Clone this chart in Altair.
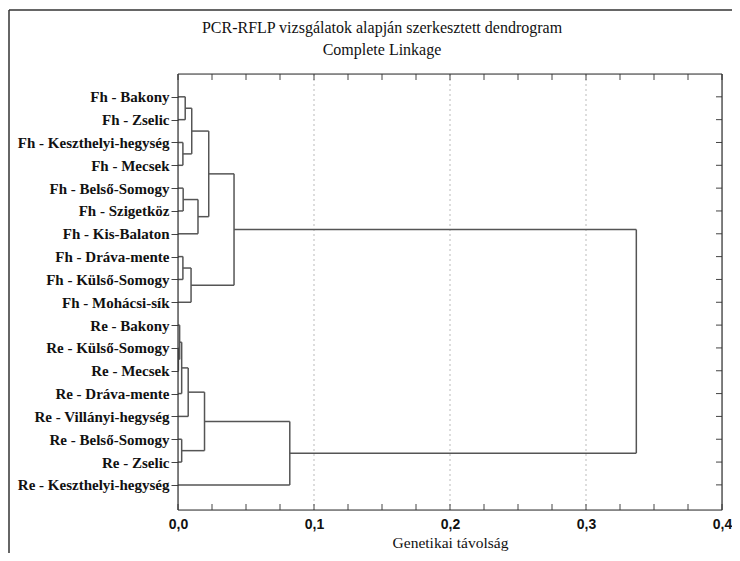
import altair as alt
import pandas as pd

# ---- data ----
leaves = [
    "Fh - Bakony", "Fh - Zselic", "Fh - Keszthelyi-hegység", "Fh - Mecsek",
    "Fh - Belső-Somogy", "Fh - Szigetköz", "Fh - Kis-Balaton", "Fh - Dráva-mente",
    "Fh - Külső-Somogy", "Fh - Mohácsi-sík", "Re - Bakony", "Re - Külső-Somogy",
    "Re - Mecsek", "Re - Dráva-mente", "Re - Villányi-hegység", "Re - Belső-Somogy",
    "Re - Zselic", "Re - Keszthelyi-hegység",
]
# merges: cluster a + cluster b at linkage distance h (new cluster id = 18 + k)
merge_a = [0, 2, 18, 4, 21, 20, 7, 24, 23, 11, 10, 28, 29, 15, 30, 32, 26]
merge_b = [1, 3, 19, 5, 6, 22, 8, 9, 25, 12, 27, 13, 14, 16, 31, 17, 33]
merge_h = [0.0053, 0.0036, 0.0101, 0.0038, 0.0147, 0.0226, 0.0036, 0.0096, 0.0412,
           0.0003, 0.0012, 0.0027, 0.0075, 0.0027, 0.0195, 0.0822, 0.337]
x_tick_values = [0.0, 0.1, 0.2, 0.3, 0.4]
minor_ticks = [0.0, 0.025, 0.05, 0.075, 0.1, 0.125, 0.15, 0.175, 0.2, 0.225,
               0.25, 0.275, 0.3, 0.325, 0.35, 0.375, 0.4]
grid_values = [0.1, 0.2, 0.3]
title_text = "PCR-RFLP vizsgálatok alapján szerkesztett dendrogram"
subtitle_text = "Complete Linkage"

# ---- build dendrogram segments ----
pos = {i: float(i) for i in range(len(leaves))}
hgt = {i: 0.0 for i in range(len(leaves))}
segs = []
for k, (a, b, h) in enumerate(zip(merge_a, merge_b, merge_h)):
    nid = len(leaves) + k
    segs.append(dict(x=h, x2=h, y=pos[a], y2=pos[b]))
    segs.append(dict(x=hgt[a], x2=h, y=pos[a], y2=pos[a]))
    segs.append(dict(x=hgt[b], x2=h, y=pos[b], y2=pos[b]))
    pos[nid] = (pos[a] + pos[b]) / 2
    hgt[nid] = h
seg_df = pd.DataFrame(segs)
leaf_df = pd.DataFrame({"y": list(range(len(leaves)))})
minor_df = pd.DataFrame({"x": minor_ticks})
grid_df = pd.DataFrame({"x": grid_values})
one = pd.DataFrame({"d": [0]})

W, H = 544, 436
PL, PT, PR, PB = 170, 66, 10, 43

xscale = alt.Scale(domain=[0, 0.4], nice=False, zero=False)
yscale = alt.Scale(domain=[-1, 18.1], reverse=True, nice=False, zero=False)

label_arr = "[" + ",".join('"' + s + '"' for s in leaves) + "]"

xaxis = alt.Axis(
    values=x_tick_values,
    labelExpr="replace(format(datum.value, '.1f'), '.', ',')",
    labelFlush=False,
    title="Genetikai távolság",
    titleFont="Liberation Serif", titleFontSize=15.5, titleFontWeight="normal",
    titleColor="#111", titlePadding=4,
    labelFont="Liberation Sans", labelFontSize=14, labelFontWeight="bold",
    labelColor="#111", labelPadding=7,
    ticks=False, domain=False, grid=False,
)
yaxis = alt.Axis(
    values=list(range(len(leaves))),
    labelExpr=label_arr + "[datum.value]",
    title=None,
    labelFont="Liberation Serif", labelFontSize=15, labelFontWeight="bold",
    labelColor="#111", labelPadding=2,
    ticks=True, tickSize=7, tickColor="#444", domain=False, grid=False,
)

line_color = "#555555"

grid = alt.Chart(grid_df).mark_rule(color="#bbbbbb", strokeDash=[2, 3], strokeWidth=1).encode(
    x=alt.X("x:Q", scale=xscale, axis=xaxis),
    y=alt.value(0), y2=alt.value(H),
)

dendro = alt.Chart(seg_df).mark_rule(color=line_color, strokeWidth=1.5).encode(
    x=alt.X("x:Q", scale=xscale, axis=xaxis),
    x2="x2:Q",
    y=alt.Y("y:Q", scale=yscale, axis=yaxis),
    y2="y2:Q",
)

top_ticks = alt.Chart(minor_df).mark_rule(color="#444", strokeWidth=1).encode(
    x=alt.X("x:Q", scale=xscale, axis=xaxis),
    y=alt.value(0), y2=alt.value(6),
)
bottom_ticks = alt.Chart(minor_df).mark_rule(color="#444", strokeWidth=1).encode(
    x=alt.X("x:Q", scale=xscale, axis=xaxis),
    y=alt.value(H - 6), y2=alt.value(H),
)
right_ticks = alt.Chart(leaf_df).mark_rule(color="#444", strokeWidth=1).encode(
    y=alt.Y("y:Q", scale=yscale, axis=yaxis),
    x=alt.value(W - 6), x2=alt.value(W),
)

# plot box
box_top = alt.Chart(one).mark_rule(color="#333", strokeWidth=1.2).encode(
    y=alt.value(0), x=alt.value(0), x2=alt.value(W))
box_bottom = alt.Chart(one).mark_rule(color="#333", strokeWidth=1.2).encode(
    y=alt.value(H), x=alt.value(0), x2=alt.value(W))
box_left = alt.Chart(one).mark_rule(color="#333", strokeWidth=1.2).encode(
    x=alt.value(0), y=alt.value(0), y2=alt.value(H))
box_right = alt.Chart(one).mark_rule(color="#333", strokeWidth=1.2).encode(
    x=alt.value(W), y=alt.value(0), y2=alt.value(H))

# outer frame
frame_left = alt.Chart(one).mark_rule(color="#333", strokeWidth=1.5).encode(
    x=alt.value(-PL + 1), y=alt.value(-PT + 2), y2=alt.value(H + PB),
)
frame_top = alt.Chart(one).mark_rule(color="#333", strokeWidth=1.5).encode(
    y=alt.value(-PT + 2), x=alt.value(-PL + 1), x2=alt.value(W + PR),
)

title_mark = alt.Chart(one).mark_text(
    text=title_text, font="Liberation Serif", fontSize=16, color="#111",
    align="center", baseline="middle",
).encode(x=alt.value(204), y=alt.value(-46))
subtitle_mark = alt.Chart(one).mark_text(
    text=subtitle_text, font="Liberation Serif", fontSize=16, color="#111",
    align="center", baseline="middle",
).encode(x=alt.value(204), y=alt.value(-24))

chart = alt.layer(
    grid, dendro, top_ticks, bottom_ticks, right_ticks,
    box_top, box_bottom, box_left, box_right,
    frame_left, frame_top, title_mark, subtitle_mark,
).properties(
    width=W, height=H,
    autosize=alt.AutoSizeParams(type="none"),
    padding={"left": PL, "top": PT, "right": PR, "bottom": PB},
).configure_view(
    stroke=None
).configure(background="white")

chart.save("out.html", embed_options={"renderer": "svg", "actions": False})
